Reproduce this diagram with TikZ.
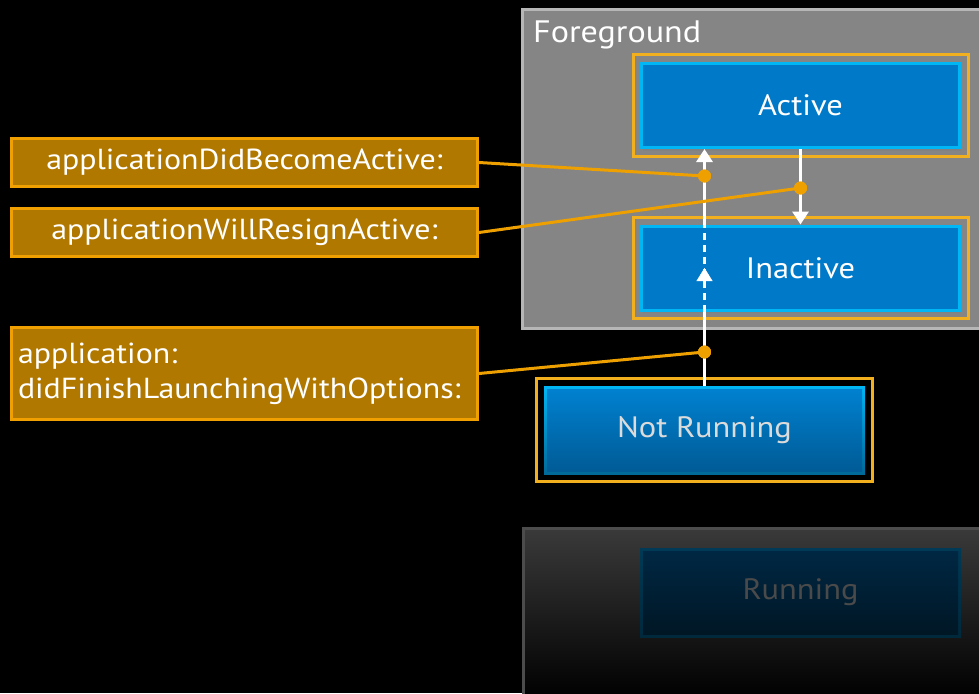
\documentclass[tikz,border=0pt]{standalone}
\usepackage{fontspec}
\setmainfont{PT Sans}[FakeStretch=1.1]
\usetikzlibrary{arrows.meta,decorations.markings,shadows,fit}

\definecolor{fgfill}{HTML}{858585}
\definecolor{fgedge}{HTML}{B6B6B6}
\definecolor{bgtop}{HTML}{3A3A3A}
\definecolor{bgedge}{HTML}{4C4C4C}
\definecolor{bluefill}{HTML}{0079C9}
\definecolor{blueedge}{HTML}{00B6F5}
\definecolor{nrtop}{HTML}{0082D2}
\definecolor{nrbottom}{HTML}{005A94}
\definecolor{nredgebottom}{HTML}{006A9A}
\definecolor{runtop}{HTML}{002844}
\definecolor{runbottom}{HTML}{001624}
\definecolor{runedge}{HTML}{003A56}
\definecolor{runtext}{HTML}{4A4A4A}
\definecolor{frameor}{HTML}{F3B01E}
\definecolor{lblfill}{HTML}{B17800}
\definecolor{lbledge}{HTML}{F0A000}
\definecolor{connor}{HTML}{EDA000}

\begin{document}
\begin{tikzpicture}[x=1pt,y=-1pt,
  state/.style={draw=blueedge, fill=bluefill, line width=3pt,
    minimum width=318pt, minimum height=84pt, inner sep=0pt, text=white,
    font=\fontsize{29.5}{36}\selectfont,
    drop shadow={opacity=0.45, shadow xshift=1.5pt, shadow yshift=-3pt}},
  frame/.style={draw=frameor, line width=3pt, inner sep=7pt},
  lbl/.style={draw=lbledge, fill=lblfill, line width=3pt,
    minimum width=466pt, minimum height=48pt, inner sep=0pt, text=white,
    font=\fontsize{29}{34}\selectfont},
  conn/.style={draw=connor, line width=3pt},
  dot/.style={circle, fill=connor, minimum size=13pt, inner sep=0pt},
  wl/.style={draw=white, line width=3pt},
  wtip/.tip={Triangle[width=16pt,length=13pt]}
]
\useasboundingbox (0,0) rectangle (979,693);
\fill[black] (0,0) rectangle (979,693);

% group panels
\begin{scope}
  \clip (0,0) rectangle (979,693);
  \draw[fill=fgfill, draw=fgedge, line width=3pt] (522.5,9.5) rectangle (995,328.5);
  \shade[top color=bgtop, bottom color=black] (522,527) rectangle (995,700);
  \draw[bgedge, line width=3pt] (523.5,700) -- (523.5,528.5) -- (995,528.5);
\end{scope}
\node[anchor=base west, inner sep=0pt, text=white, font=\fontsize{31}{38}\selectfont]
  (fglabel) at (533,43) {Foreground};

% states
\node[state] (active) at (800.5,105.5) {Active};
\node[state] (inactive) at (800.5,268) {Inactive};
\node[frame, fit=(active)] (activeframe) {};
\node[frame, fit=(inactive)] (inactiveframe) {};

\node[minimum width=321pt, minimum height=88pt, inner sep=0pt,
  top color=blueedge, bottom color=nredgebottom,
  text=white!86!black, font=\fontsize{29.5}{36}\selectfont,
  path picture={\shade[top color=nrtop, bottom color=nrbottom]
    ([shift={(3pt,-3pt)}]path picture bounding box.north west) rectangle
    ([shift={(-3pt,3pt)}]path picture bounding box.south east);}]
  (notrunning) at (704.5,430) {Not Running};
\node[frame, fit=(notrunning)] (notrunningframe) {};

\node[minimum width=321pt, minimum height=89pt, inner sep=0pt,
  top color=runedge, bottom color=runedge!70!black,
  text=runtext, font=\fontsize{29.5}{36}\selectfont,
  path picture={\shade[top color=runtop, bottom color=runbottom]
    ([shift={(3pt,-3pt)}]path picture bounding box.north west) rectangle
    ([shift={(-3pt,3pt)}]path picture bounding box.south east);}]
  (running) at (800.5,592.5) {Running};

% delegate labels
\node[lbl] (lblA) at (244.5,162.5) {applicationDidBecomeActive:};
\node[lbl] (lblB) at (244.5,232.5) {applicationWillResignActive:};
\node[lbl, minimum height=92pt, text width=453pt, inner xsep=6.5pt, align=left,
  font=\fontsize{29}{35}\selectfont]
  (lblC) at (244.5,373.5) {application:\\didFinishLaunchingWithOptions:};

% transitions
\coordinate (up) at (704.5,0);
\draw[wl] (notrunning.north) -- (notrunning.north |- inactive.south);
\draw[wl, dash pattern=on 7pt off 5pt] (up |- inactive.south) -- (up |- inactive.north);
\path[decoration={markings, mark=at position 0.5 with {\arrow[white]{wtip}}},
  decorate] (up |- inactive.south) -- (up |- inactive.north);
\draw[wl, -wtip] (up |- inactive.north) -- (up |- active.south);
\draw[wl, -wtip] (active.south) -- (active.south |- inactive.north);

% delegate callbacks
\node[dot] (dA) at (704.5,176) {};
\node[dot] (dB) at (800.5,188) {};
\node[dot] (dC) at (704.5,352) {};
\draw[conn] (lblA.east) -- (dA.center);
\draw[conn] (lblB.east) -- (dB.center);
\draw[conn] (lblC.east) -- (dC.center);
\node[dot] at (dA) {};
\node[dot] at (dB) {};
\node[dot] at (dC) {};
\end{tikzpicture}
\end{document}
